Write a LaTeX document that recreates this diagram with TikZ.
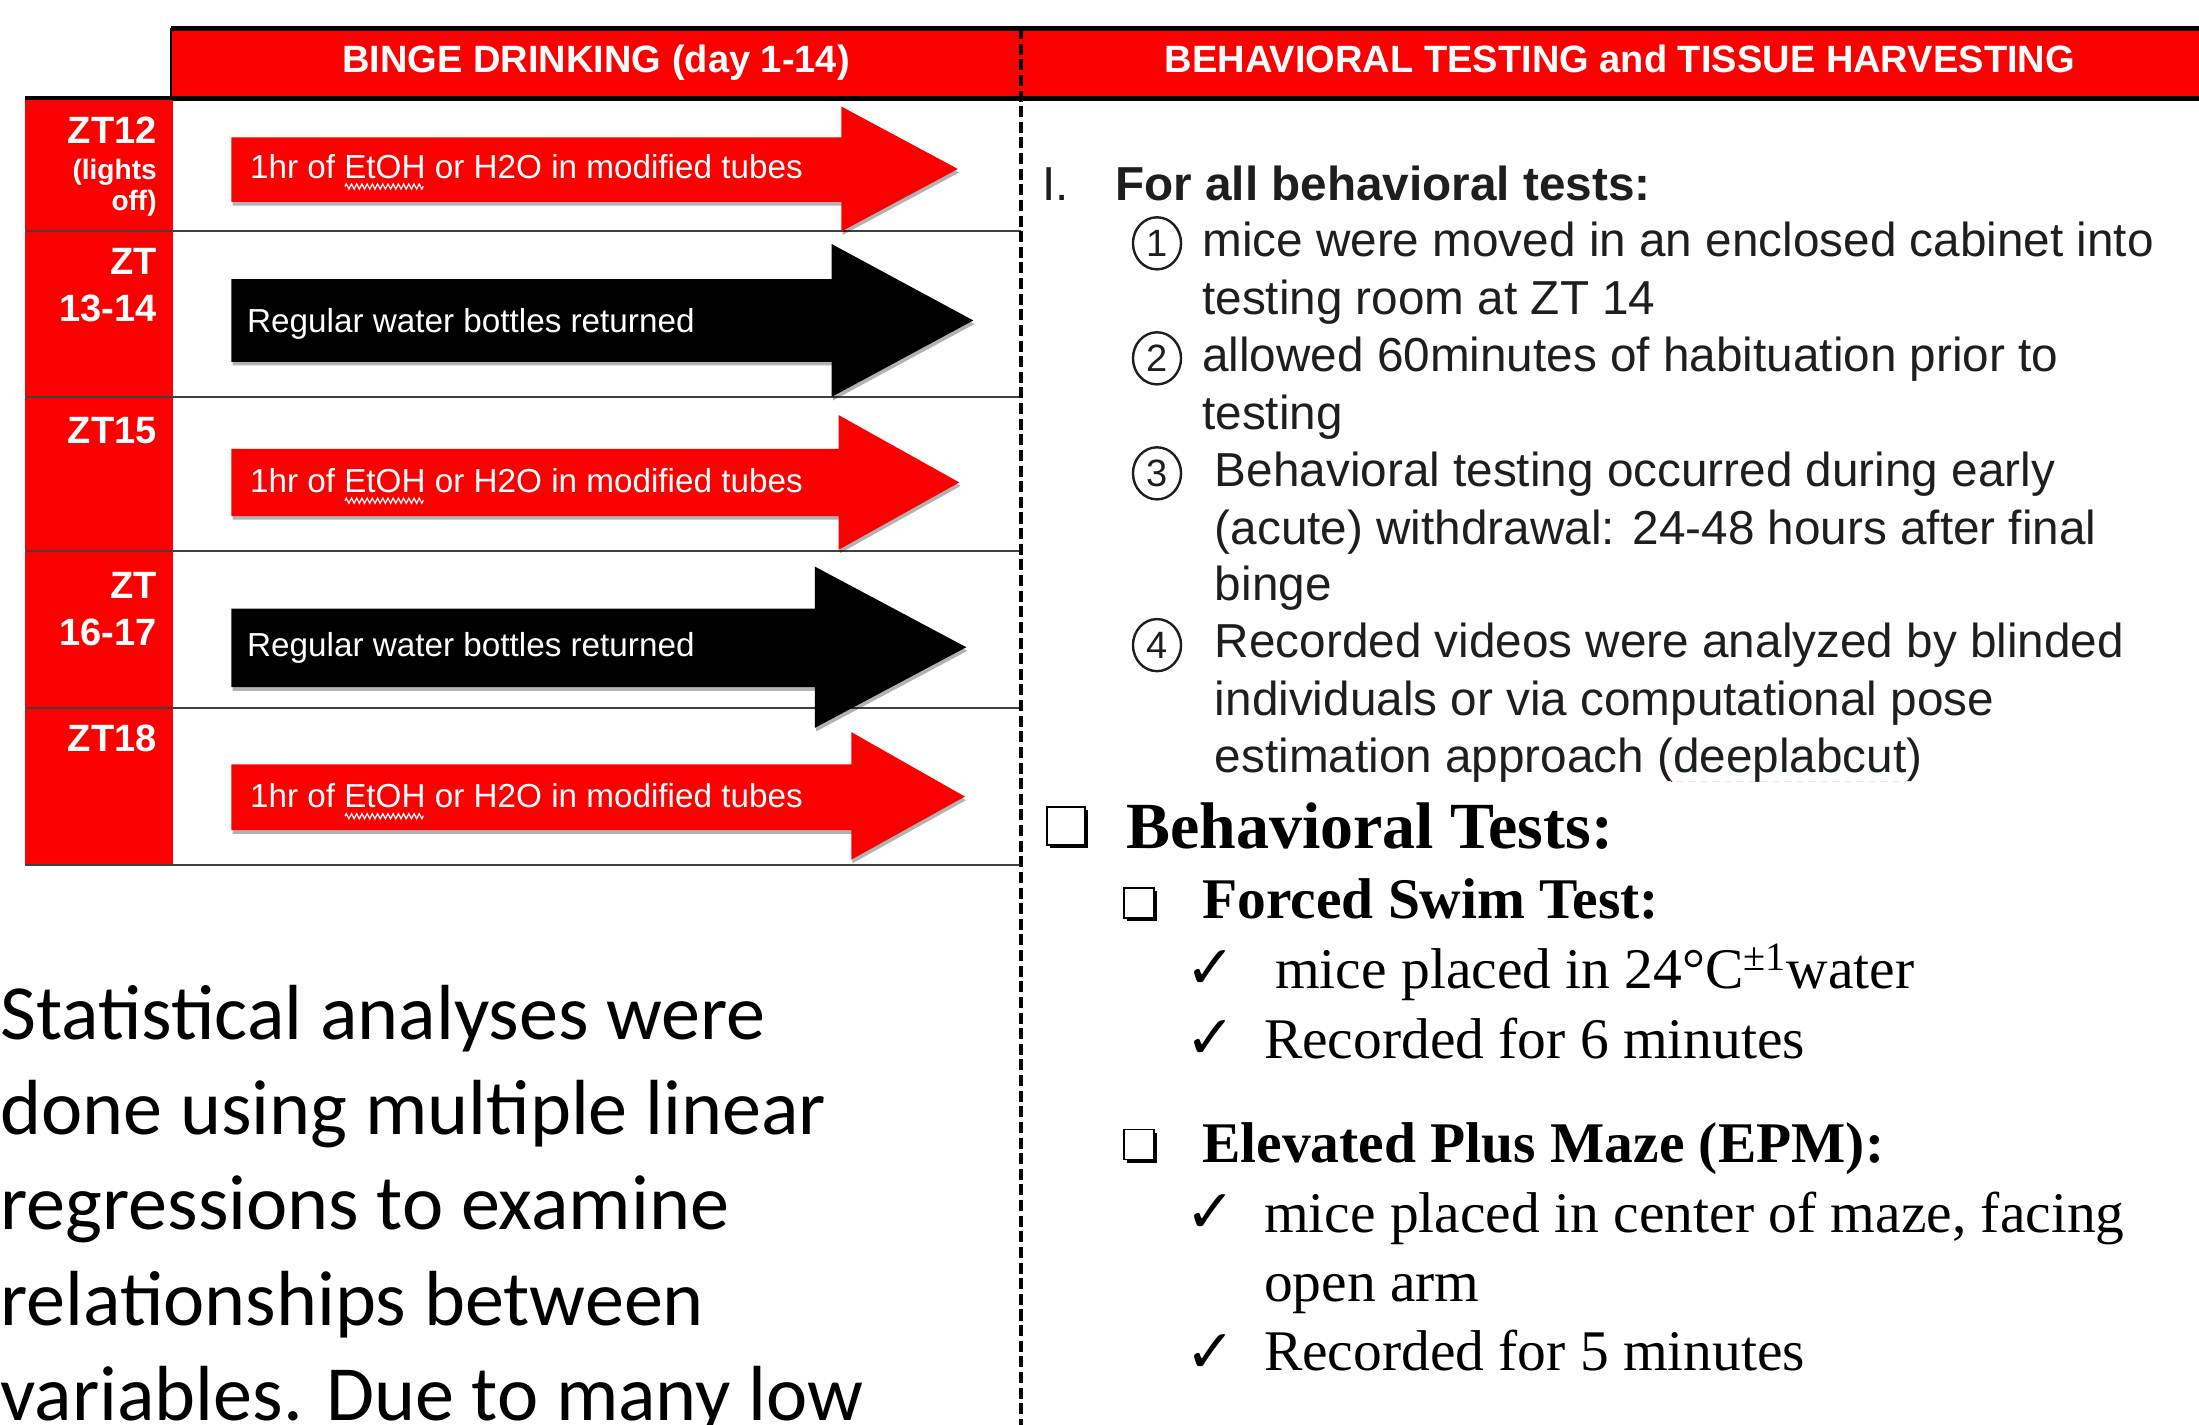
\documentclass[tikz,border=0pt]{standalone}
\usepackage{fontspec}
\setmainfont{Liberation Sans}
\newfontfamily\serifface{Liberation Serif}
\newfontfamily\noteface{Carlito}
\newfontfamily\symface{DejaVu Sans}
\usepackage{tikz}
\usetikzlibrary{decorations.pathmorphing,shadows,shapes.geometric}

\definecolor{bingered}{RGB}{250,0,0}
\definecolor{inkgray}{RGB}{30,30,30}

\tikzset{
  hdrtext/.style={text=white,font=\bfseries\fontsize{19}{22}\selectfont,inner sep=0,anchor=base},
  ztlabel/.style={text=white,font=\bfseries\fontsize{19}{22}\selectfont,inner sep=0,anchor=base east},
  ztsmall/.style={text=white,font=\bfseries\fontsize{14}{16}\selectfont,inner sep=0,anchor=base east},
  arrowtext/.style={text=white,font=\fontsize{16.6}{19}\selectfont,inner sep=0,anchor=base west},
  arrowshade/.style={drop shadow={shadow xshift=0.6pt,shadow yshift=-1.8pt,opacity=0.3,fill=black}},
  stepline/.style={text=inkgray,font=\fontsize{23.8}{28}\selectfont,inner sep=0,anchor=base west},
  numcircle/.style={ellipse,draw=inkgray,line width=1.2pt,minimum width=24pt,minimum height=26pt,inner sep=0,text=inkgray,font=\fontsize{19}{21}\selectfont},
  testhead/.style={font=\serifface\bfseries\fontsize{32.9}{38}\selectfont,inner sep=0,anchor=base west},
  testsub/.style={font=\serifface\bfseries\fontsize{28.7}{33}\selectfont,inner sep=0,anchor=base west},
  testline/.style={font=\serifface\fontsize{28.7}{33}\selectfont,inner sep=0,anchor=base west},
  tickmark/.style={font=\symface\fontsize{30}{34}\selectfont,inner sep=0},
  checkbox/.style={draw,fill=white,line width=0.8pt,inner sep=0,drop shadow={shadow xshift=1.6pt,shadow yshift=-1.6pt,opacity=1,fill=black}},
  noteline/.style={font=\noteface\fontsize{39}{47.6}\selectfont,inner sep=0,anchor=base west},
  rowline/.style={black!75,line width=1pt},
  squiggle/.style={white,line width=0.6pt,decorate,decoration={zigzag,amplitude=1.3pt,segment length=2.6pt}},
}

\begin{document}
\begin{tikzpicture}[x=0.7pt,y=-0.7pt]
  \useasboundingbox (0,0) rectangle (1568,1016);
  % header band
  \fill[bingered] (122,21) rectangle (1568,69);
  \draw[line width=2.5pt] (122,20) -- (1568,20);
  \draw[line width=2.5pt] (18,70) -- (1568,70);
  \draw[line width=1.2pt] (122,20) -- (122,70);
  % time column and rows
  \fill[bingered] (18,71) rectangle (123,617);
  \foreach \yy in {165,283,393,505,617}
    \draw[rowline] (18,\yy) -- (728,\yy);
  % arrows
  \fill[bingered,arrowshade] (165,98) -- (600,98) -- (600,76) -- (683,120.5) -- (600,165) -- (600,144) -- (165,144) -- cycle;
  \fill[black,arrowshade] (165,199) -- (593,199) -- (593,174) -- (694,228.5) -- (593,283) -- (593,258) -- (165,258) -- cycle;
  \fill[bingered,arrowshade] (165,320) -- (598,320) -- (598,296) -- (684,344) -- (598,392) -- (598,368) -- (165,368) -- cycle;
  \fill[black,arrowshade] (165,434) -- (581,434) -- (581,404) -- (689,461.5) -- (581,519) -- (581,490) -- (165,490) -- cycle;
  \fill[bingered,arrowshade] (165,545) -- (607,545) -- (607,522) -- (688,568) -- (607,613) -- (607,592) -- (165,592) -- cycle;
  \node[arrowtext] (dose1) at (178,127) {1hr of EtOH or H2O in modified tubes};
  \node[arrowtext] (bottles1) at (176,237) {Regular water bottles returned};
  \node[arrowtext] (dose2) at (178,351) {1hr of EtOH or H2O in modified tubes};
  \node[arrowtext] (bottles2) at (176,468) {Regular water bottles returned};
  \node[arrowtext] (dose3) at (178,576) {1hr of EtOH or H2O in modified tubes};
  \foreach \yy in {133,357,582}
    \draw[squiggle] (246,\yy) -- (302,\yy);
  % time labels
  \node[ztlabel] (zt12) at (112,102) {ZT12};
  \node[ztsmall] (lights) at (112,128) {(lights};
  \node[ztsmall] (off) at (112,150) {off)};
  \node[ztlabel] (zt13) at (112,196) {ZT};
  \node[ztlabel] (zt14) at (112,229) {13-14};
  \node[ztlabel] (zt15) at (112,316) {ZT15};
  \node[ztlabel] (zt16) at (112,427) {ZT};
  \node[ztlabel] (zt17) at (112,460) {16-17};
  \node[ztlabel] (zt18) at (112,536) {ZT18};
  % header titles
  \node[hdrtext] (bingehdr) at (425,52) {BINGE DRINKING (day 1-14)};
  \node[hdrtext] (testhdr) at (1155,52) {BEHAVIORAL TESTING and TISSUE HARVESTING};
  % divider
  \coordinate (divtop) at (728,20);
  \coordinate (divbot) at (728,1016);
  \draw[line width=1.7pt,dash pattern=on 5.5pt off 2.3pt] (divtop) -- (divbot);
  % general steps
  \node[stepline] (roman) at (743,143) {I.};
  \node[stepline,font=\bfseries\fontsize{23.8}{28}\selectfont] (alltests) at (795,143) {For all behavioral tests:};
  \foreach \n/\yy in {1/173.5,2/255.5,3/337.5,4/460}
    \node[numcircle] (num\n) at (825,\yy) {\n};
  \foreach \xx/\yy/\txt [count=\i] in {857/183/mice were moved in an enclosed cabinet into,
      857/224/testing room at ZT 14, 857/265/allowed 60minutes of habituation prior to,
      857/306/testing, 866/347/Behavioral testing occurred during early,
      866/388/(acute) withdrawal: 24-48 hours after final, 866/428/binge,
      866/469/Recorded videos were analyzed by blinded,
      866/510/individuals or via computational pose,
      866/551/estimation approach (deeplabcut)}
    \node[stepline] (step\i) at (\xx,\yy) {\txt};
  \draw[pink!60,dashed,line width=0.4pt] (1187,557) -- (1367,557);
  % behavioral tests
  \node[checkbox,minimum size=19pt] (box1) at (760,589) {};
  \node[testhead] (behtests) at (803,605) {Behavioral Tests:};
  \node[checkbox,minimum size=15pt] (box2) at (812,644) {};
  \node[testsub] (fst) at (857,655) {Forced Swim Test:};
  \node[tickmark] (tick1) at (863,691) {✓};
  \node[testline] (fst1) at (909,705) {mice placed in 24°C\textsuperscript{±1}water};
  \node[tickmark] (tick2) at (863,741) {✓};
  \node[testline] (fst2) at (901,755) {Recorded for 6 minutes};
  \node[checkbox,minimum size=15pt] (box3) at (812,816) {};
  \node[testsub] (epm) at (857,829) {Elevated Plus Maze (EPM):};
  \node[tickmark] (tick3) at (863,865) {✓};
  \node[testline] (epm1) at (901,879) {mice placed in center of maze, facing};
  \node[testline] (epm2) at (901,928) {open arm};
  \node[tickmark] (tick4) at (863,965) {✓};
  \node[testline] (epm3) at (901,977) {Recorded for 5 minutes};
  % statistics note
  \foreach \yy/\txt [count=\i] in {741/Statistical analyses were, 809/done using multiple linear,
      877/regressions to examine, 945/relationships between, 1013/variables. Due to many low}
    \node[noteline] (note\i) at (0,\yy) {\txt};
\end{tikzpicture}
\end{document}
